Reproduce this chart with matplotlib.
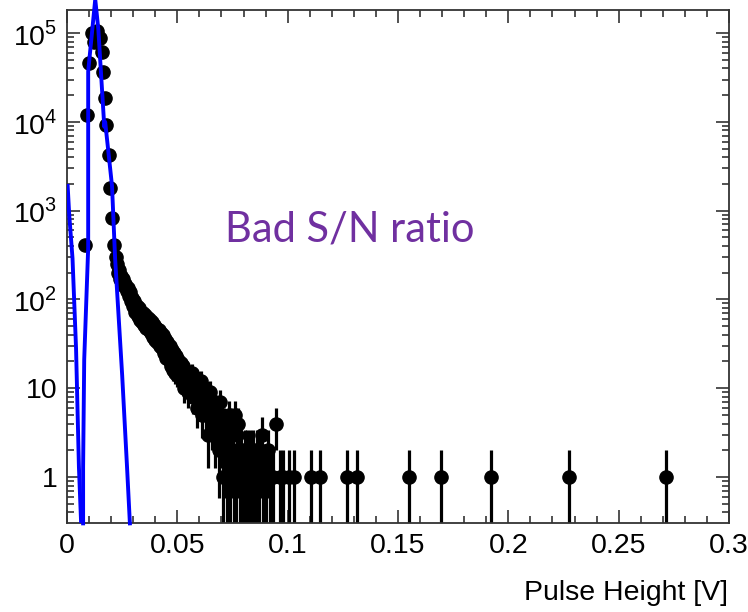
import numpy as np
import matplotlib
matplotlib.use("Agg")
import matplotlib.pyplot as plt
from matplotlib.ticker import FixedLocator, NullFormatter

plt.rcParams['font.family'] = ['Liberation Sans', 'DejaVu Sans']
plt.rcParams['mathtext.fontset'] = 'custom'
plt.rcParams['mathtext.rm'] = 'Liberation Sans'

# histogram points: bin centre [V] and counts
# peak region
peak_x = [0.0082, 0.0092, 0.0101, 0.0112, 0.0122, 0.0135, 0.0148, 0.0159,
          0.0164, 0.0171, 0.0176, 0.0189, 0.0195, 0.0204, 0.0212, 0.0220]
peak_counts = [410, 12000, 46000, 100000, 80000, 105000, 88000, 62000,
               36000, 18500, 9200, 4200, 1800, 830, 410, 300]

# falling shoulder, 0.5 mV bins from 22.5 mV to 87.5 mV
shoulder_x = [0.0225 + 0.0005 * i for i in range(131)]
shoulder_counts = [
    250, 200, 215, 170, 185, 150, 170, 140, 150, 125,
    135, 110, 120, 95, 105, 85, 95, 72, 84, 65,
    80, 58, 70, 56, 70, 52, 66, 48, 62, 45,
    58, 42, 55, 38, 52, 35, 48, 33, 45, 30,
    42, 28, 40, 25, 36, 22, 33, 21, 30, 18,
    27, 16, 25, 15, 23, 14, 21, 13, 19, 12,
    18, 10, 16, 12, 15, 9, 14, 11, 15, 8,
    12, 9, 13, 6, 11, 8, 12, 5, 9, 7,
    10, 5, 8, 3, 6, 9, 4, 7, 5, 3,
    6, 4, 5, 2, 7, 3, 1, 4, 2, 3,
    1, 2, 5, 1, 4, 2, 1, 5, 1, 3,
    4, 2, 1, 2, 1, 1, 2, 1, 2, 1,
    1, 2, 1, 1, 2, 1, 1, 2, 1, 1,
    2,
]

# sparse tail
tail_x = [0.0885, 0.0890, 0.0900, 0.0910, 0.0920, 0.0935, 0.0949, 0.0965,
          0.0980, 0.1008, 0.1030, 0.1107, 0.1148, 0.1271, 0.1312, 0.1552,
          0.1697, 0.1920, 0.2274, 0.2714]
tail_counts = [3, 1, 1, 2, 1, 1, 4, 1, 1, 1, 1, 1, 1, 1, 1, 1, 1, 1, 1, 1]

# fitted curves (blue), vertices
noise_fit_x = [0.0003, 0.0010, 0.0025, 0.0041, 0.0054, 0.0064]
noise_fit_y = [1900, 900, 290, 28, 1.3, 0.30]
signal_fit_x = [0.0073, 0.0073, 0.0078, 0.0096, 0.0096, 0.0128, 0.0142,
                0.0169, 0.0173, 0.0204, 0.0218, 0.0250, 0.0272, 0.0285]
signal_fit_y = [0.30, 1.3, 21, 380, 37000, 240000, 110000,
                8800, 10000, 1900, 290, 14, 1.3, 0.30]

x_ticks = [0, 0.05, 0.1, 0.15, 0.2, 0.25, 0.3]
x_tick_labels = ["0", "0.05", "0.1", "0.15", "0.2", "0.25", "0.3"]
y_ticks = [1, 10, 100, 1000, 10000, 100000]
y_tick_labels = ["1", "10", "$10^{2}$", "$10^{3}$", "$10^{4}$", "$10^{5}$"]

fig = plt.figure(figsize=(7.48, 6.12), dpi=100)
ax = fig.add_axes([67 / 748, 89 / 612, 662 / 748, 513 / 612])

x = np.array(peak_x + shoulder_x + tail_x)
n = np.array(peak_counts + shoulder_counts + tail_counts, dtype=float)
err = np.sqrt(n)
low = np.maximum(n - err, 1e-3)
high = n + err

ax.vlines(x, low, high, color="black", lw=2.3, zorder=2)
ax.plot(x, n, "o", color="black", ms=9.5, zorder=3)

ax.plot(noise_fit_x, noise_fit_y, color="#0000ff", lw=2.8, zorder=4)
ax.plot(signal_fit_x, signal_fit_y, color="#0000ff", lw=2.8, zorder=4,
        clip_on=False)

ax.set_yscale("log")
ax.set_xlim(0, 0.3)
ax.set_ylim(0.303, 1.82e5)

ax.xaxis.set_major_locator(FixedLocator(x_ticks))
ax.set_xticklabels(x_tick_labels)
ax.xaxis.set_minor_locator(FixedLocator(np.arange(0, 0.3001, 0.01)))
ax.yaxis.set_major_locator(FixedLocator(y_ticks))
ax.set_yticklabels(y_tick_labels)
minor_y = [m * 10.0 ** e for e in range(-1, 6) for m in range(2, 10)]
ax.yaxis.set_minor_locator(FixedLocator(minor_y))
ax.yaxis.set_minor_formatter(NullFormatter())

ax.tick_params(which="both", direction="in", top=True, right=True,
               width=1.2, labelsize=20.5, color="#333333")
ax.tick_params(which="major", length=9.5, pad=7)
ax.tick_params(which="minor", length=4.8)
for s in ax.spines.values():
    s.set_linewidth(1.3)
    s.set_color("#333333")

fig.text(728 / 748, 12 / 612, "Pulse Height [V]", ha="right", va="baseline",
         fontsize=20.5)
fig.text(225 / 748, 370 / 612, "Bad S/N ratio", ha="left", va="baseline",
         fontsize=30, color="#7030a0", family=["Lato", "DejaVu Sans"])

fig.savefig("out.png", dpi=100)
